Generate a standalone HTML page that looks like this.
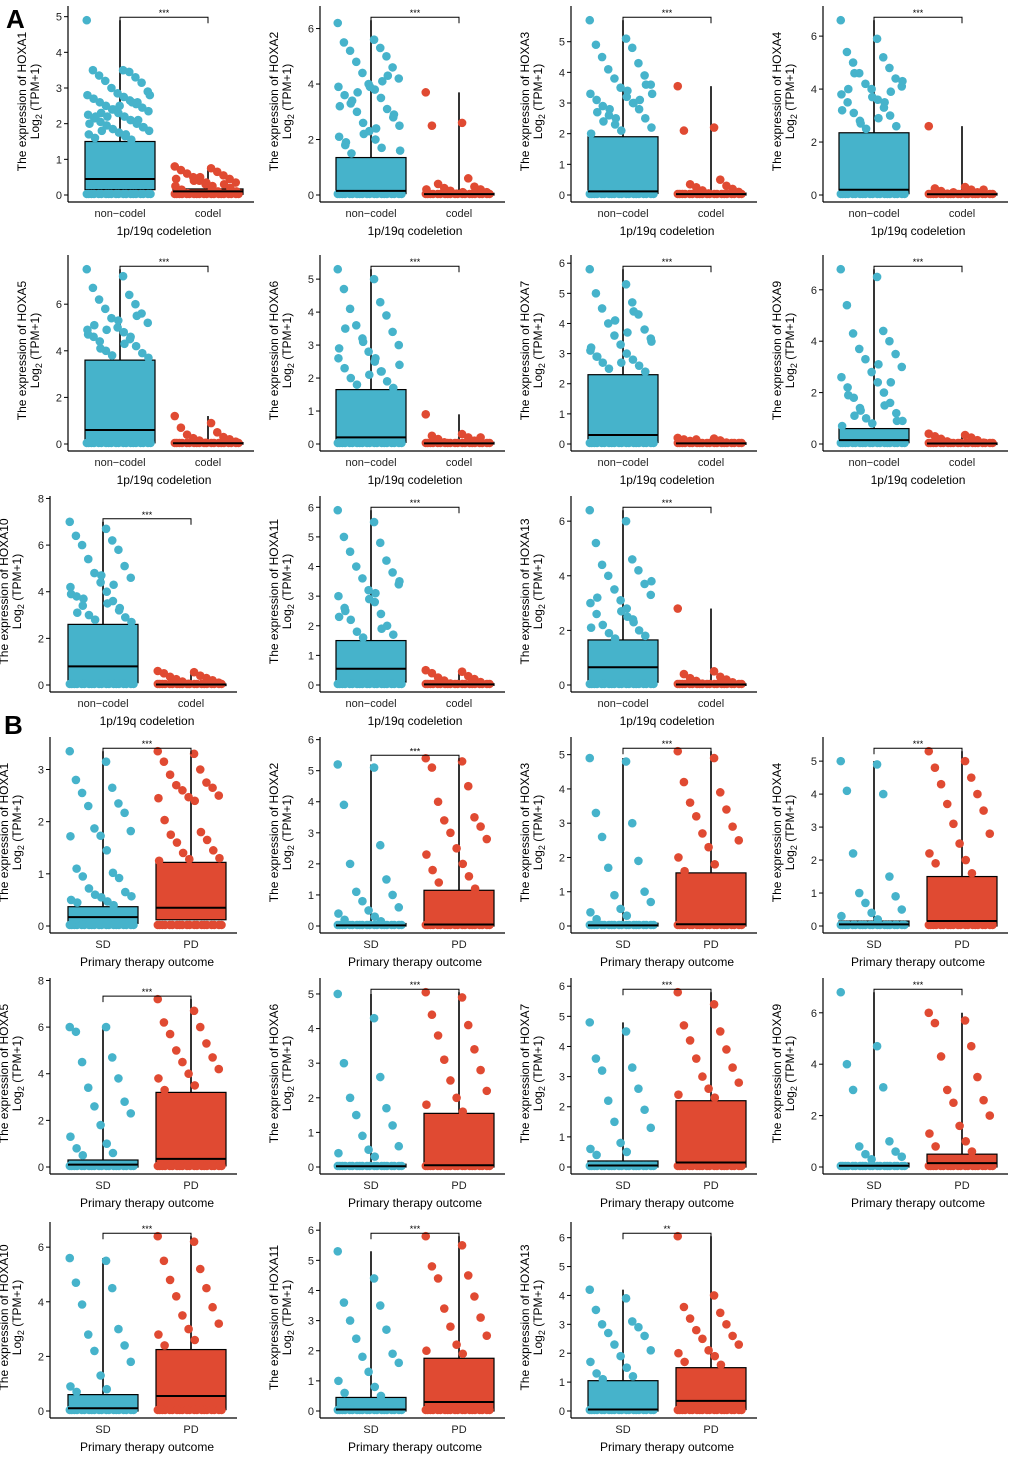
<!DOCTYPE html>
<html><head><meta charset="utf-8">
<style>
body{margin:0;background:#fff}
svg{display:block;font-family:"Liberation Sans",Arial,sans-serif}
</style></head>
<body>
<svg id="fig" width="1020" height="1459" viewBox="0 0 1020 1459">
<text x="6" y="28" font-size="26" font-weight="bold">A</text>
<text x="4" y="734" font-size="26" font-weight="bold">B</text>
</svg>
<script>
// ---- data ----
const genes = ["HOXA1","HOXA2","HOXA3","HOXA4","HOXA5","HOXA6","HOXA7","HOXA9","HOXA10","HOXA11","HOXA13"];
const groupsA = ["non−codel","codel"];
const groupsB = ["SD","PD"];
const tickMaxA = [5,6,5,6,6,5,6,6,8,6,6];
const tickStepA = [1,2,1,2,2,1,1,2,2,1,2];
const tickMaxB = [3,6,5,5,8,5,6,6,6,6,6];
const tickStepB = [1,1,1,1,2,1,1,2,2,1,1];
// box stats [q1, median, q3, max]
const boxA1 = [[0.15,0.45,1.5,4.9],[0.05,0.15,1.35,6.3],[0.05,0.12,1.9,5.7],[0.05,0.2,2.35,6.6],[0.05,0.6,3.6,7.5],[0.05,0.2,1.65,5.3],[0.05,0.3,2.3,5.8],[0.05,0.15,0.6,6.8],[0.1,0.8,2.6,7.0],[0.1,0.55,1.5,5.9],[0.1,0.65,1.65,6.4]];
const boxA2 = [[0.02,0.1,0.17,0.8],[0,0.03,0.06,3.7],[0,0.03,0.06,3.55],[0,0.03,0.06,2.6],[0,0.03,0.06,1.2],[0,0.02,0.05,0.9],[0,0.02,0.04,0.2],[0,0.02,0.04,0.4],[0,0.02,0.04,0.6],[0,0.02,0.04,0.5],[0,0.02,0.04,2.8]];
const boxB1 = [[0.05,0.17,0.37,3.35],[0,0.02,0.08,5.2],[0,0.02,0.08,4.9],[0,0.05,0.15,5.0],[0,0.1,0.3,6.0],[0,0.02,0.08,5.0],[0,0.05,0.2,4.8],[0,0.05,0.15,6.8],[0,0.1,0.6,5.6],[0,0.05,0.45,5.3],[0,0.05,1.05,4.2]];
const boxB2 = [[0.12,0.35,1.22,3.35],[0,0.05,1.15,5.4],[0,0.05,1.55,5.1],[0,0.15,1.5,5.3],[0.05,0.35,3.2,7.2],[0,0.05,1.55,5.05],[0,0.15,2.2,5.8],[0,0.15,0.5,6.0],[0.05,0.55,2.25,6.4],[0,0.3,1.75,5.8],[0.05,0.35,1.5,6.05]];
const sigA = ["***","***","***","***","***","***","***","***","***","***","***"];
const sigB = ["***","***","***","***","***","***","***","***","***","***","**"];
// scattered points (values)
const ptsA1 = [
[4.9,3.5,3.5,3.45,3.35,3.3,3.2,3.15,3.0,2.9,2.85,2.8,2.75,2.7,2.65,2.6,2.55,2.5,2.45,2.4,2.35,2.3,2.25,2.2,2.15,2.1,2.05,2.0,1.95,1.9,1.85,1.8,1.75,1.7,1.65,1.6,1.55,2.3,2.6,2.2,1.9,2.4,2.8,2.5,2.0,1.7,2.2,2.6,1.8,2.1],
[6.2,5.6,5.5,5.3,5.2,5.0,4.8,4.6,4.4,4.2,4.0,3.9,3.8,3.6,3.5,3.3,3.1,3.0,2.8,2.6,2.5,2.3,2.1,2.0,1.8,1.7,1.5,4.3,3.7,2.9,2.2,1.6,3.9,3.2,2.4,1.9,4.1,3.4],
[5.7,5.1,4.9,4.8,4.5,4.3,4.1,3.9,3.8,3.6,3.5,3.3,3.2,3.1,3.0,2.9,2.8,2.6,2.5,2.3,2.2,2.1,2.0,3.4,2.7,3.0,2.4,3.1,2.8,3.6,2.5,3.3],
[6.6,5.9,5.4,5.2,5.0,4.8,4.6,4.4,4.2,4.1,4.0,3.8,3.6,3.5,3.3,3.1,3.0,2.8,2.6,2.5,4.3,3.7,3.2,2.9,4.0,3.5,4.6,3.9,2.7],
[7.5,7.2,6.7,6.4,6.2,6.0,5.8,5.6,5.4,5.2,5.0,4.9,4.8,4.6,4.5,4.4,4.2,4.0,3.9,3.8,3.7,5.3,4.7,4.3,5.1,4.6,4.1,5.5,4.9],
[5.3,5.0,4.7,4.3,4.1,3.9,3.6,3.4,3.2,3.0,2.8,2.6,2.5,2.3,2.2,2.0,1.9,1.8,1.7,3.1,2.4,2.1,2.9,2.6,3.5,2.2],
[5.8,5.3,5.0,4.7,4.5,4.3,4.0,3.8,3.6,3.5,3.3,3.1,3.0,2.9,2.8,2.7,2.6,2.5,2.4,4.1,3.4,2.7,3.2,3.7,2.9,4.4],
[6.8,6.5,5.4,4.4,4.3,4.0,3.7,3.5,3.3,3.0,2.8,2.6,2.4,2.2,2.0,1.8,1.6,1.4,1.2,1.0,0.9,0.8,0.7,3.1,1.9,1.5,1.1,2.4,1.3,0.9],
[7.0,6.7,6.4,6.2,6.0,5.8,5.4,5.1,4.8,4.6,4.4,4.2,4.0,3.8,3.6,3.4,3.2,3.0,2.9,2.8,2.7,4.7,3.9,3.5,3.1,4.3,3.7,3.3],
[5.9,5.5,5.0,4.8,4.5,4.2,4.0,3.8,3.6,3.4,3.2,3.0,2.8,2.6,2.4,2.2,2.0,1.8,1.7,1.6,3.5,2.9,2.3,3.1,2.5,1.9],
[6.4,6.0,5.2,4.6,4.4,4.2,4.0,3.7,3.5,3.3,3.1,3.0,2.8,2.6,2.4,2.2,2.0,1.9,1.8,1.7,3.8,2.7,2.1,2.5,3.2,2.3]];
const ptsA2 = [
[0.8,0.75,0.7,0.65,0.6,0.55,0.5,0.45,0.4,0.35,0.3,0.25,0.2,0.15,0.1,0.05,0.3,0.4,0.2,0.5,0.1,0.35,0.45,0.25],
[3.7,2.6,2.5,0.6,0.4,0.3,0.25,0.2,0.15,0.1,0.05,0.2,0.1],
[3.55,2.2,2.1,0.5,0.35,0.3,0.25,0.2,0.15,0.1,0.05],
[2.6,0.3,0.25,0.2,0.15,0.1,0.05,0.2,0.1],
[1.2,0.9,0.7,0.5,0.4,0.3,0.25,0.2,0.15,0.1,0.05],
[0.9,0.3,0.25,0.2,0.15,0.1,0.05,0.2],
[0.2,0.18,0.15,0.12,0.1,0.05,0.15],
[0.4,0.35,0.3,0.25,0.2,0.15,0.1,0.05],
[0.6,0.55,0.5,0.4,0.35,0.3,0.25,0.2,0.15,0.1,0.05],
[0.5,0.45,0.4,0.3,0.25,0.2,0.15,0.1,0.05],
[2.8,0.5,0.4,0.3,0.25,0.2,0.15,0.1,0.05]];
const ptsB1 = [
[3.35,3.15,2.8,2.65,2.55,2.35,2.3,2.17,1.87,1.82,1.73,1.72,1.45,1.1,1.02,0.95,0.92,0.72,0.65,0.6,0.57,0.55,0.5,0.47,0.45,0.4],
[5.2,5.1,3.9,2.6,2.0,1.5,1.1,1.0,0.8,0.6,0.5,0.4,0.3,0.2,0.15],
[4.9,4.8,3.3,3.0,2.6,1.9,1.7,1.0,0.9,0.7,0.5,0.4,0.3,0.2],
[5.0,4.9,4.1,4.0,2.2,1.5,1.0,0.9,0.7,0.5,0.4,0.3,0.2],
[6.0,6.0,5.8,4.7,4.5,3.8,3.4,2.8,2.6,2.3,1.8,1.3,1.0,0.8,0.6,0.5],
[5.0,4.3,3.0,2.6,2.0,1.7,1.5,1.2,0.9,0.6,0.5,0.4,0.3],
[4.8,4.5,3.6,3.3,3.2,2.6,2.2,1.9,1.5,1.3,0.8,0.6,0.5,0.4],
[6.8,4.7,4.0,3.1,3.0,1.0,0.8,0.6,0.5,0.4,0.3],
[5.6,5.5,4.7,4.5,3.9,3.0,2.8,2.4,2.2,1.8,1.3,0.9,0.8,0.7],
[5.3,4.4,3.6,3.5,3.0,2.7,2.4,1.9,1.8,1.6,1.3,1.0,0.8,0.6,0.5],
[4.2,3.9,3.5,3.1,3.0,2.9,2.7,2.6,2.3,2.1,1.9,1.7,1.5,1.3,1.2,1.1]];
const ptsB2 = [
[3.35,3.3,3.15,3.0,2.9,2.75,2.7,2.65,2.6,2.5,2.47,2.45,2.4,2.03,1.8,1.75,1.65,1.6,1.45,1.4,1.3,1.28,1.25],
[5.4,5.3,5.1,4.5,4.0,3.5,3.4,3.2,3.0,2.8,2.5,2.3,2.0,1.8,1.6,1.4,1.2],
[5.1,4.9,4.2,3.9,3.6,3.4,3.2,2.9,2.7,2.5,2.3,2.0,1.8,1.6],
[5.3,5.0,4.8,4.5,4.3,4.0,3.7,3.5,3.1,2.8,2.5,2.2,2.0,1.9,1.6],
[7.2,6.7,6.2,6.0,5.7,5.3,5.0,4.7,4.5,4.2,4.0,3.8,3.5,3.3],
[5.05,4.9,4.4,4.1,3.8,3.4,3.1,2.8,2.5,2.2,2.0,1.8,1.6],
[5.8,5.4,4.7,4.5,4.2,3.9,3.6,3.3,3.0,2.8,2.6,2.4,2.3],
[6.0,5.7,5.6,4.7,4.3,3.5,3.0,2.6,2.5,2.0,1.6,1.3,1.0,0.8,0.6],
[6.4,6.2,5.5,5.2,4.8,4.5,4.2,3.8,3.5,3.2,3.0,2.8,2.6,2.4],
[5.8,5.5,4.8,4.5,4.4,3.8,3.4,3.1,2.8,2.5,2.2,2.0,1.9],
[6.05,4.0,3.6,3.4,3.2,3.0,2.8,2.6,2.5,2.3,2.1,2.0,1.9,1.7,1.6]];

// ---- layout ----
const NS="http://www.w3.org/2000/svg";
const svg=document.getElementById('fig');
const BLUE="#46B3CB", RED="#E04A32";
function el(tag,attrs,parent){const e=document.createElementNS(NS,tag);for(const k in attrs)e.setAttribute(k,attrs[k]);(parent||svg).appendChild(e);return e;}
const colCenters=[[120,208],[371,459],[623,711],[874,962]];
const colAxis=[68,320,571,823];
const rowY0=[195,444,685,926,1167,1411];

function panel(idx,row,col,gene,groups,xTitle,tickMax,tickStep,boxes,pts,sig,axisX,centers){
  const g=el('g',{});
  
  
  const y0=rowY0[row], top=y0-187;
  const dmax=Math.max(boxes[0][3],boxes[1][3],...pts[0],...pts[1]);
  const lim=Math.max(dmax*1.07,tickMax*1.0+0.02);
  const ys=v=>y0-v/lim*(y0-top);
  const right=centers[1]+46;
  const ya=el('line',{x1:axisX,y1:top-2,x2:axisX,y2:y0+7,stroke:'#000','stroke-width':1.2},g);
  
  const xa=el('line',{x1:axisX,y1:y0+7,x2:right,y2:y0+7,stroke:'#000','stroke-width':1.2},g);
  
  for(let t=0;t<=tickMax+1e-9;t+=tickStep){
    const y=ys(t);
    el('line',{x1:axisX-4,y1:y,x2:axisX,y2:y,stroke:'#000','stroke-width':1},g);
    const tl=el('text',{x:axisX-6,y:y+4,'font-size':11,'text-anchor':'end',fill:'#222'},g);
    tl.textContent=t;
    
  }
  const yt=el('text',{transform:`translate(${axisX-42},${(top+y0)/2}) rotate(-90)`,'font-size':12,'text-anchor':'middle'},g);
  yt.textContent='The expression of '+gene;
  
  const yt2=el('text',{transform:`translate(${axisX-29},${(top+y0)/2}) rotate(-90)`,'font-size':12,'text-anchor':'middle'},g);
  yt2.innerHTML='Log<tspan font-size="9" dy="3">2</tspan><tspan dy="-3"> (TPM+1)</tspan>';
  
  const colors=[BLUE,RED];
  for(let k=0;k<2;k++){
    const cx=centers[k], b=boxes[k], w=70;
    const vl=el('line',{x1:cx,y1:ys(b[2]),x2:cx,y2:ys(b[3]),stroke:'#000','stroke-width':1.6},g);
    
    const bx=el('rect',{x:cx-w/2,y:ys(b[2]),width:w,height:Math.max(1.5,ys(b[0])-ys(b[2])),fill:colors[k],stroke:'#000','stroke-width':1.2},g);
    
    for(let i=0;i<20;i++){
      const jx=cx+((i*37%100)/100-0.5)*w*0.95;
      el('circle',{cx:jx,cy:ys(0)-1,r:4.2,fill:colors[k]},g);
    }
    pts[k].forEach((v,i)=>{
      const jx=cx+((i*53%97)/97-0.5)*w*0.95;
      const c=el('circle',{cx:jx,cy:ys(v),r:4.3,fill:colors[k]},g);
      
      
    });
    const md=el('line',{x1:cx-w/2,y1:ys(b[1]),x2:cx+w/2,y2:ys(b[1]),stroke:'#000','stroke-width':2},g);
    
    const xl=el('text',{x:cx,y:y0+22,'font-size':11,'text-anchor':'middle',fill:'#222'},g);
    xl.textContent=groups[k];
    
  }
  const by=ys(dmax)-3;
  const br=el('path',{d:`M${centers[0]},${by+6}V${by}H${centers[1]}V${by+6}`,fill:'none',stroke:'#000','stroke-width':1},g);
  
  const st=el('text',{x:(centers[0]+centers[1])/2,y:by-1,'font-size':9,'text-anchor':'middle'},g);
  st.textContent=sig;
  
  const xt=el('text',{x:(centers[0]+centers[1])/2,y:y0+40,'font-size':12,'text-anchor':'middle'},g);
  xt.textContent=xTitle;
  
}

for(let i=0;i<11;i++){
  const row=Math.floor(i/4), col=i%4;
  let ax=colAxis[col], cs=colCenters[col];
  if(col===0&&row===2){ax=50;cs=[103,191];}
  panel(i,row,col,genes[i],groupsA,'1p/19q codeletion',tickMaxA[i],tickStepA[i],[boxA1[i],boxA2[i]],[ptsA1[i],ptsA2[i]],sigA[i],ax,cs);
  let bx=colAxis[col], bc=colCenters[col];
  if(col===0){bx=50;bc=[103,191];}
  panel(i,row+3,col,genes[i],groupsB,'Primary therapy outcome',tickMaxB[i],tickStepB[i],[boxB1[i],boxB2[i]],[ptsB1[i],ptsB2[i]],sigB[i],bx,bc);
}
</script>
</body></html>
